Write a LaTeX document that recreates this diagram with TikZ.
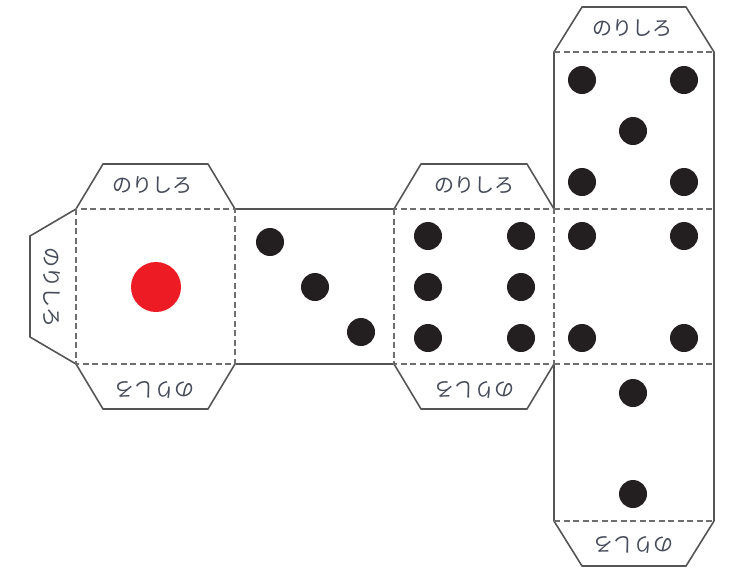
\documentclass[tikz,border=0pt]{standalone}
\usepackage{fontspec}
\newfontfamily\cjk{Noto Sans CJK JP}
\definecolor{Rojo}{RGB}{237, 28, 36}
\definecolor{Negro}{RGB}{35, 31, 32}
\definecolor{Borde}{RGB}{85, 85, 85}
\definecolor{Letra}{RGB}{70, 75, 90}
\tikzset{
	corte/.style={draw=Borde, line width=1.6pt, line join=round},
	pliegue/.style={draw=Borde!85, line width=1.1pt, dash pattern=on 6pt off 3.5pt},
	punto/.style={fill=Negro},
	pestana/.style={font=\cjk\fontsize{20}{20}\selectfont, text=Letra, inner sep=0pt}
}

\begin{document}
\begin{tikzpicture}[x=1pt, y=-1pt]
	\useasboundingbox (0,0) rectangle (738,571);

	% Contorno de la tira horizontal
	\draw[corte] (76,209) -- (103,164) -- (208,164) -- (235,209) -- (394,209) -- (421,164) -- (527,164) -- (554,209);
	\draw[corte] (76,364) -- (103,409) -- (208,409) -- (235,364) -- (394,364) -- (421,409) -- (527,409) -- (554,364);
	\draw[corte] (76,209) -- (30,236) -- (30,337) -- (76,364);

	% Contorno de la tira vertical
	\draw[corte] (554,364) -- (554,521) -- (582,566) -- (686,566) -- (714,521) -- (714,52) -- (686,7) -- (582,7) -- (554,52) -- (554,209);

	% Pliegues
	\draw[pliegue] (76,209) rectangle (235,364);
	\draw[pliegue] (394,209) rectangle (554,364);
	\draw[pliegue] (554,209) -- (714,209);
	\draw[pliegue] (554,364) -- (714,364);
	\draw[pliegue] (554,52) -- (714,52);
	\draw[pliegue] (554,521) -- (714,521);

	% Cara del uno
	\fill[Rojo] (156,287) circle (25);

	% Cara del tres
	\fill[punto] (270,242) circle (14);
	\fill[punto] (315,287) circle (14);
	\fill[punto] (361,332) circle (14);

	% Cara del seis
	\fill[punto] (428,236) circle (14);
	\fill[punto] (521,236) circle (14);
	\fill[punto] (428,287) circle (14);
	\fill[punto] (521,287) circle (14);
	\fill[punto] (428,338) circle (14);
	\fill[punto] (521,338) circle (14);

	% Cara del cinco
	\fill[punto] (582,80) circle (14);
	\fill[punto] (684,80) circle (14);
	\fill[punto] (633,131) circle (14);
	\fill[punto] (582,182) circle (14);
	\fill[punto] (684,182) circle (14);

	% Cara del cuatro
	\fill[punto] (582,236) circle (14);
	\fill[punto] (684,236) circle (14);
	\fill[punto] (582,338) circle (14);
	\fill[punto] (684,338) circle (14);

	% Cara del dos
	\fill[punto] (633,393) circle (14);
	\fill[punto] (633,494) circle (14);

	% Textos de las pestanas
	\node[pestana] (solapaA) at (152,185) {のりしろ};
	\node[pestana, rotate=180] (solapaB) at (154,390) {のりしろ};
	\node[pestana, rotate=-90] (solapaC) at (52,287) {のりしろ};
	\node[pestana] (solapaD) at (474,185) {のりしろ};
	\node[pestana, rotate=180] (solapaE) at (474,390) {のりしろ};
	\node[pestana] (solapaF) at (632,28) {のりしろ};
	\node[pestana, rotate=180] (solapaG) at (633,545) {のりしろ};
\end{tikzpicture}
\end{document}
